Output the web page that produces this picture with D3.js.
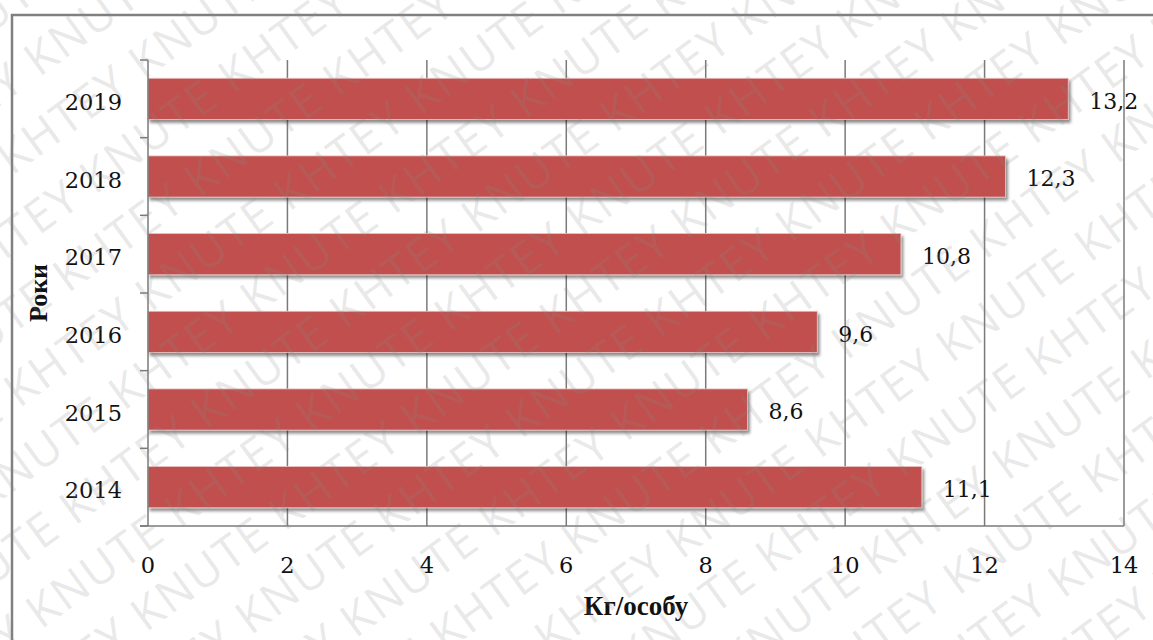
<!DOCTYPE html>
<html>
<head>
<meta charset="utf-8">
<script src="https://cdn.jsdelivr.net/npm/d3@7"></script>
<style>
  html, body { margin: 0; padding: 0; background: #fff; }
  svg { display: block; }
</style>
</head>
<body>
<svg id="chart" width="1153" height="640"></svg>
<script>
// Consumption per person, kg, by year (top to bottom)
const years = ["2019", "2018", "2017", "2016", "2015", "2014"];
const values = [13.2, 12.3, 10.8, 9.6, 8.6, 11.1];
const xTicks = [0, 2, 4, 6, 8, 10, 12, 14];
const xTitle = "Кг/особу";
const yTitle = "Роки";
const watermarkWords = ["KNUTE", "KHTEY"];

const svg = d3.select("#chart");
const W = 1153, H = 640;
const plot = { left: 148, right: 1124, top: 60, bottom: 526 };

const x = d3.scaleLinear().domain([0, 14]).range([plot.left, plot.right]);
const y = d3.scaleBand().domain(years).range([plot.top, plot.bottom]).paddingInner(0.47).paddingOuter(0.235);
const yEdges = d3.scaleBand().domain(years).range([plot.top, plot.bottom]);

const defs = svg.append("defs");
const shadow = defs.append("filter").attr("id", "barShadow")
  .attr("x", "-5%").attr("y", "-20%").attr("width", "110%").attr("height", "160%");
shadow.append("feDropShadow").attr("dx", 2).attr("dy", 3).attr("stdDeviation", 1.8)
  .attr("flood-color", "#000").attr("flood-opacity", 0.45);

svg.append("rect").attr("width", W).attr("height", H).attr("fill", "#fff");

// outer frame
svg.append("path")
  .attr("d", `M12,${H + 5} L12,15 L${W + 5},15`)
  .attr("fill", "none").attr("stroke", "#808080").attr("stroke-width", 2.5);

const gridColor = "#7a7a7a";

// vertical gridlines
svg.append("g").selectAll("line").data(xTicks.filter(d => d > 0)).join("line")
  .attr("x1", d => x(d)).attr("x2", d => x(d))
  .attr("y1", plot.top).attr("y2", plot.bottom)
  .attr("stroke", gridColor).attr("stroke-width", 1.5);

// bars
svg.append("g").selectAll("rect").data(years).join("rect")
  .attr("x", x(0))
  .attr("y", d => y(d))
  .attr("width", (d, i) => x(values[i]) - x(0))
  .attr("height", y.bandwidth())
  .attr("fill", "#c0504d")
  .attr("stroke", "#e9c3c2").attr("stroke-width", 0.8)
  .attr("filter", "url(#barShadow)");

// value labels
svg.append("g").selectAll("text").data(years).join("text")
  .attr("x", (d, i) => x(values[i]) + 21)
  .attr("y", d => y(d) + y.bandwidth() / 2 + 2)
  .attr("dy", "0.36em")
  .attr("font-family", "DejaVu Serif")
  .attr("font-size", 22)
  .attr("fill", "#111")
  .text((d, i) => d3.format(".1f")(values[i]).replace(".", ","));

// category axis
const yAxis = svg.append("g").attr("transform", `translate(${plot.left},0)`);
yAxis.append("line").attr("x1", 0).attr("x2", 0).attr("y1", plot.top).attr("y2", plot.bottom)
  .attr("stroke", gridColor).attr("stroke-width", 1.5);
const edges = years.map(d => yEdges(d)).concat([plot.bottom]);
yAxis.selectAll("line.tick").data(edges).join("line").attr("class", "tick")
  .attr("x1", -8).attr("x2", 0).attr("y1", d => d).attr("y2", d => d)
  .attr("stroke", gridColor).attr("stroke-width", 1.5);
yAxis.selectAll("text").data(years).join("text")
  .attr("x", -26)
  .attr("y", d => y(d) + y.bandwidth() / 2 + 3)
  .attr("dy", "0.36em")
  .attr("text-anchor", "end")
  .attr("font-family", "DejaVu Serif")
  .attr("font-size", 22.5)
  .attr("fill", "#111")
  .text(d => d);

// value axis
const xAxis = svg.append("g");
xAxis.append("line").attr("x1", plot.left - 8).attr("x2", plot.right)
  .attr("y1", plot.bottom).attr("y2", plot.bottom)
  .attr("stroke", gridColor).attr("stroke-width", 1.5);
xAxis.selectAll("text").data(xTicks).join("text")
  .attr("x", d => x(d))
  .attr("y", 573)
  .attr("text-anchor", "middle")
  .attr("font-family", "DejaVu Serif")
  .attr("font-size", 22.5)
  .attr("fill", "#111")
  .text(d => d);

// axis titles
svg.append("text")
  .attr("x", 636).attr("y", 615)
  .attr("text-anchor", "middle")
  .attr("font-family", "Liberation Serif").attr("font-weight", "bold")
  .attr("font-size", 27).attr("fill", "#111")
  .text(xTitle);
svg.append("text")
  .attr("transform", `translate(47,${(plot.top + plot.bottom) / 2}) rotate(-90)`)
  .attr("text-anchor", "middle")
  .attr("font-family", "Liberation Serif").attr("font-weight", "bold")
  .attr("font-size", 26).attr("fill", "#111")
  .text(yTitle);

// repeated diagonal watermark
const wm = svg.append("g")
  .attr("transform", `translate(${W / 2},${H / 2}) rotate(-36)`)
  .attr("pointer-events", "none");
const rowGap = 64;
const rows = d3.range(-12, 13);
const line = d3.range(0, 14).map(i => watermarkWords[i % 2]).join(" ");
wm.selectAll("text").data(rows).join("text")
  .attr("x", d => -1200 + ((d * 83) % 190))
  .attr("y", d => d * rowGap)
  .attr("font-family", "Open Sans")
  .attr("font-size", 46)
  .attr("letter-spacing", 2)
  .attr("fill", "#8c8c8c")
  .attr("fill-opacity", 0.2)
  .text(line);
</script>
</body>
</html>
